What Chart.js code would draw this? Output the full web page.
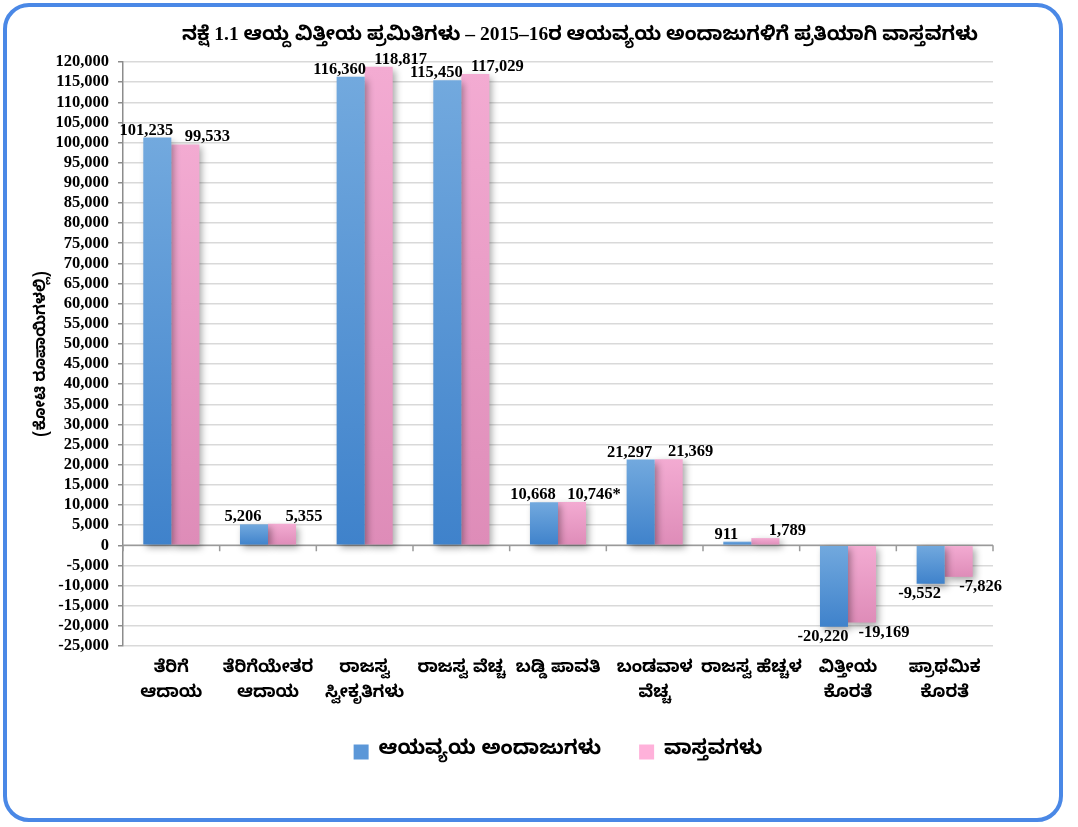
<!DOCTYPE html>
<html>
<head>
<meta charset="utf-8">
<script src="https://cdn.jsdelivr.net/npm/chart.js@4.4.1/dist/chart.umd.min.js"></script>
<style>
  html, body { margin: 0; padding: 0; background: #ffffff; }
  #wrap { position: relative; width: 1078px; height: 827px; }
  #frame { position: absolute; left: 3px; top: 3px; width: 1052px; height: 811px;
           border: 4px solid #4a88e6; border-radius: 26px; background: #fff; }
  canvas { position: absolute; left: 0; top: 0; }
</style>
</head>
<body>
<div id="wrap">
  <div id="frame"></div>
  <canvas id="c" width="1078" height="827"></canvas>
</div>
<script>
const titleText = 'ನಕ್ಷೆ 1.1 ಆಯ್ದ ವಿತ್ತೀಯ ಪ್ರಮಿತಿಗಳು – 2015–16ರ ಆಯವ್ಯಯ ಅಂದಾಜುಗಳಿಗೆ ಪ್ರತಿಯಾಗಿ ವಾಸ್ತವಗಳು';
const yAxisTitle = '(ಕೋಟಿ ರೂಪಾಯಿಗಳಲ್ಲಿ)';
const categories = [
  ['ತೆರಿಗೆ', 'ಆದಾಯ'],
  ['ತೆರಿಗೆಯೇತರ', 'ಆದಾಯ'],
  ['ರಾಜಸ್ವ', 'ಸ್ವೀಕೃತಿಗಳು'],
  ['ರಾಜಸ್ವ ವೆಚ್ಚ'],
  ['ಬಡ್ಡಿ ಪಾವತಿ'],
  ['ಬಂಡವಾಳ', 'ವೆಚ್ಚ'],
  ['ರಾಜಸ್ವ ಹೆಚ್ಚಳ'],
  ['ವಿತ್ತೀಯ', 'ಕೊರತೆ'],
  ['ಪ್ರಾಥಮಿಕ', 'ಕೊರತೆ']
];
const seriesNames = ['ಆಯವ್ಯಯ ಅಂದಾಜುಗಳು', 'ವಾಸ್ತವಗಳು'];
const budgetEstimates = [101235, 5206, 116360, 115450, 10668, 21297, 911, -20220, -9552];
const actuals = [99533, 5355, 118817, 117029, 10746, 21369, 1789, -19169, -7826];
const labelSuffix = [['', '', '', '', '', '', '', '', ''], ['', '', '', '', '*', '', '', '', '']];
const yMin = -25000, yMax = 120000, yStep = 5000;

const KN = "'Noto Sans Kannada', 'Tunga', 'Lohit Kannada', 'Noto Sans', sans-serif";
const SERIF = "'Liberation Serif', 'Times New Roman', 'Noto Sans Kannada', 'Tunga', serif";
const fmt = v => v.toLocaleString('en-US');

function gradFill(top, bottom) {
  return function (ctx) {
    const chart = ctx.chart;
    const ys = chart.scales.y;
    if (!ys || ctx.parsed == null || ctx.type !== 'data') return bottom;
    const v = ctx.parsed.y;
    const p1 = ys.getPixelForValue(Math.max(v, 0));
    const p2 = ys.getPixelForValue(Math.min(v, 0));
    if (!isFinite(p1) || !isFinite(p2) || p1 === p2) return bottom;
    const g = chart.ctx.createLinearGradient(0, p1, 0, p2);
    g.addColorStop(0, top);
    g.addColorStop(1, bottom);
    return g;
  };
}

const decorPlugin = {
  id: 'decor',
  beforeDatasetsDraw(chart) {
    const ctx = chart.ctx;
    const y = chart.scales.y, x = chart.scales.x;
    const y0 = y.getPixelForValue(0);
    ctx.save();
    ctx.strokeStyle = '#9a9a9a';
    ctx.lineWidth = 1.5;
    ctx.beginPath();
    ctx.moveTo(x.left, y0); ctx.lineTo(x.right, y0);
    const n = categories.length;
    for (let i = 0; i <= n; i++) {
      const px = x.left + (x.right - x.left) * i / n;
      ctx.moveTo(px, y0); ctx.lineTo(px, y0 + 6);
    }
    ctx.stroke();
    ctx.restore();
    ctx.save();
    ctx.shadowColor = 'rgba(0,0,0,0.35)';
    ctx.shadowBlur = 7;
    ctx.shadowOffsetX = 3;
    ctx.shadowOffsetY = 3;
  },
  afterDatasetsDraw(chart) {
    const ctx = chart.ctx;
    ctx.restore();
    ctx.save();
    ctx.font = 'bold 16.5px ' + SERIF;
    ctx.fillStyle = '#000';
    ctx.textAlign = 'center';
    const shifts = [-11, 22];
    chart.data.datasets.forEach((ds, di) => {
      const meta = chart.getDatasetMeta(di);
      meta.data.forEach((bar, i) => {
        const v = ds.data[i];
        const txt = fmt(v) + labelSuffix[di][i];
        const px = bar.x + shifts[di];
        if (v >= 0) {
          ctx.textBaseline = 'bottom';
          ctx.fillText(txt, px, bar.y + 1);
        } else {
          ctx.textBaseline = 'top';
          ctx.fillText(txt, px, bar.y + 2);
        }
      });
    });
    ctx.font = 'bold 19.5px ' + SERIF;
    ctx.textBaseline = 'middle';
    ctx.fillText(titleText, 580, 35);
    ctx.restore();
  }
};

new Chart(document.getElementById('c'), {
  type: 'bar',
  data: {
    labels: categories,
    datasets: [
      { label: seriesNames[0], data: budgetEstimates,
        backgroundColor: gradFill('#72a9de', '#3f82cb'), borderWidth: 0,
        categoryPercentage: 0.58, barPercentage: 1.0 },
      { label: seriesNames[1], data: actuals,
        backgroundColor: gradFill('#f3abd2', '#de8cb8'), borderWidth: 0,
        categoryPercentage: 0.58, barPercentage: 1.0 }
    ]
  },
  options: {
    responsive: false,
    animation: false,
    layout: { padding: { left: 0, right: 85, top: 62, bottom: 55 } },
    plugins: {
      title: { display: false },
      tooltip: { enabled: false },
      legend: {
        position: 'bottom',
        fullSize: false,
        labels: {
          color: '#000',
          font: { family: KN, size: 20, weight: 'bold' },
          boxWidth: 15, boxHeight: 15,
          padding: 38,
          generateLabels(chart) {
            const cols = ['#5b97d8', '#ffb1da'];
            return chart.data.datasets.map((ds, i) => ({
              text: ds.label, fillStyle: cols[i], strokeStyle: cols[i], lineWidth: 0,
              hidden: false, datasetIndex: i, fontColor: '#000'
            }));
          }
        }
      }
    },
    scales: {
      x: {
        grid: { display: false },
        border: { display: false },
        ticks: { color: '#000', font: { family: KN, size: 17, weight: 'bold', lineHeight: 1.45 },
                 maxRotation: 0, autoSkip: false, padding: 4 },
        afterFit(s) { s.height = 58; }
      },
      y: {
        min: yMin, max: yMax,
        afterFit(s) { s.width = 123; },
        border: { display: true, color: '#8c8c8c', width: 1.5 },
        grid: { color: '#d9d9d9', lineWidth: 1.5, tickColor: '#8c8c8c', tickLength: 5 },
        ticks: { stepSize: yStep, autoSkip: false, color: '#000', padding: 9,
                 font: { family: SERIF, size: 16.5, weight: 'bold' },
                 callback: v => fmt(v) },
        title: { display: true, text: yAxisTitle, color: '#000',
                 font: { family: KN, size: 15.5, weight: 'bold' }, padding: { top: 34, bottom: 0 } }
      }
    }
  },
  plugins: [decorPlugin]
});
</script>
</body>
</html>
